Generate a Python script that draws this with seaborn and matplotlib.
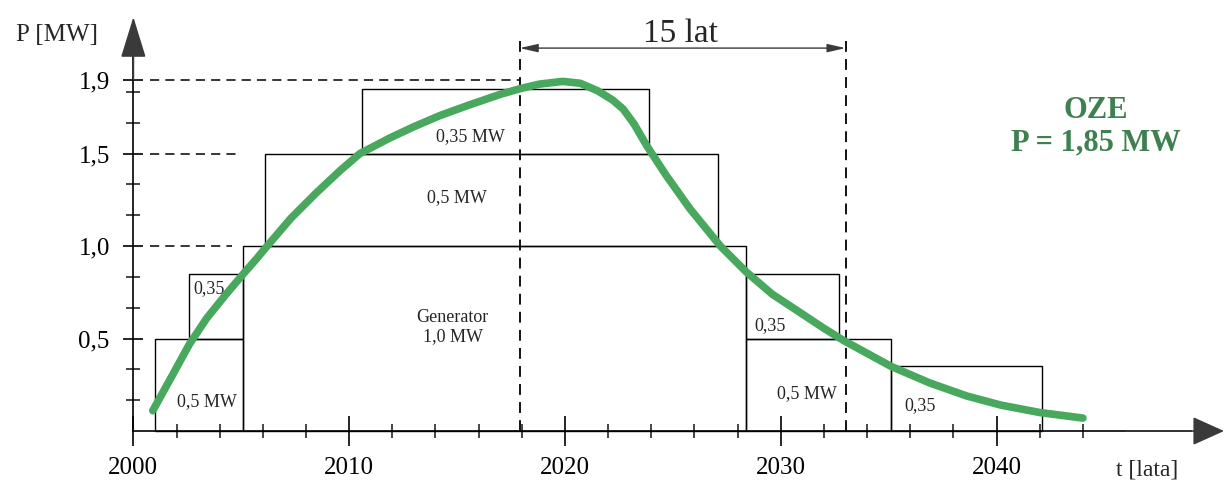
import matplotlib
matplotlib.use("Agg")
import matplotlib.pyplot as plt
import seaborn as sns
import pandas as pd

# green OZE curve (year, power in MW)
curve_year = [2000.9, 2001.8, 2002.6, 2003.4, 2004.3, 2005.1, 2005.7, 2006.2, 2007.3, 2008.5,
              2009.6, 2010.5, 2011.9, 2013.0, 2014.2, 2015.5, 2017.0, 2017.9, 2018.8, 2019.9,
              2020.7, 2021.5, 2022.2, 2022.7, 2023.2, 2023.8, 2024.7, 2025.8, 2027.2, 2028.4,
              2029.6, 2030.9, 2032.0, 2032.9, 2034.0, 2035.1, 2036.9, 2038.6, 2040.2, 2042.0,
              2044.0]
curve_power = [0.11, 0.30, 0.47, 0.61, 0.74, 0.85, 0.93, 1.00, 1.15, 1.29,
               1.41, 1.50, 1.585, 1.645, 1.705, 1.76, 1.82, 1.85, 1.875, 1.89,
               1.88, 1.84, 1.79, 1.74, 1.66, 1.54, 1.38, 1.20, 1.00, 0.86,
               0.74, 0.64, 0.555, 0.49, 0.42, 0.35, 0.26, 0.19, 0.14, 0.10,
               0.07]

# generator blocks
box_start = [2001.0, 2002.6, 2005.1, 2006.1, 2010.6, 2028.4, 2028.4, 2035.1]
box_end = [2005.1, 2005.1, 2028.4, 2027.1, 2023.9, 2032.7, 2035.1, 2042.1]
box_bottom = [0.0, 0.5, 0.0, 1.0, 1.5, 0.5, 0.0, 0.0]
box_height = [0.5, 0.35, 1.0, 0.5, 0.35, 0.35, 0.5, 0.35]
box_label = ["0,5 MW", "0,35", "Generator\n1,0 MW", "0,5 MW", "0,35 MW", "0,35", "0,5 MW", "0,35"]
label_x = [2003.4, 2003.5, 2014.8, 2015.0, 2015.6, 2029.5, 2031.2, 2036.45]
label_y = [0.157, 0.77, 0.562, 1.26, 1.59, 0.57, 0.205, 0.135]

x_major = [2000, 2010, 2020, 2030, 2040]
x_minor = [y for y in range(2002, 2045, 2) if y % 10 != 0]
y_major = [0.5, 1.0, 1.5, 1.9]
y_labels = ["0,5", "1,0", "1,5", "1,9"]
y_minor = [k / 6 for k in range(1, 12) if k not in (3, 6, 9)]

span_start, span_end = 2017.9, 2033.0

sns.set_theme(style="white")
plt.rcParams["font.family"] = ["Liberation Serif", "DejaVu Serif"]

GREEN = "#48a85e"
TEXT_GREEN = "#3f8050"
DARK = "#3a3a3a"

fig = plt.figure(figsize=(12.26, 4.88), dpi=100)
ax = fig.add_axes([0, 0, 1, 1])
ax.set_xlim(1993.82, 2050.63)
ax.set_ylim(-0.308, 2.33)

# boxes
widths = [e - s for s, e in zip(box_start, box_end)]
ax.bar(box_start, box_height, width=widths, bottom=box_bottom, align="edge",
       fill=False, edgecolor="black", linewidth=1.0, zorder=2)
for lx, ly, lab in zip(label_x, label_y, box_label):
    ax.text(lx, ly, lab, ha="center", va="center", fontsize=13, linespacing=1.1, zorder=3)

# dashed helper lines
ax.plot([2000.77, span_start], [1.9, 1.9], color="black", lw=1.1, dashes=(6, 4))
ax.plot([2000.77, 2004.94], [1.5, 1.5], color="black", lw=1.1, dashes=(6, 4))
ax.plot([2000.77, 2004.57], [1.0, 1.0], color="black", lw=1.1, dashes=(6, 4))
for xv in (span_start, span_end):
    ax.plot([xv, xv], [0, 2.11], color="black", lw=1.3, dashes=(6, 4))

# 15 years span
ax.annotate("", xy=(span_start, 2.07), xytext=(span_end, 2.07),
            arrowprops=dict(arrowstyle="<|-|>,head_length=1.1,head_width=0.25",
                            mutation_scale=10, color=DARK, lw=1.0,
                            shrinkA=0, shrinkB=0))
ax.text(2025.37, 2.15, "15 lat", ha="center", va="center", fontsize=24)

# OZE curve
df = pd.DataFrame({"year": curve_year, "power": curve_power})
sns.lineplot(data=df, x="year", y="power", ax=ax, color=GREEN, linewidth=5.5,
             solid_capstyle="round", solid_joinstyle="round", sort=False, zorder=4)
ax.text(2044.6, 1.645, "OZE\nP = 1,85 MW", ha="center", va="center", fontsize=22,
        fontweight="bold", color=TEXT_GREEN, linespacing=1.15)

# axes
for side in ("top", "right"):
    ax.spines[side].set_visible(False)
ax.spines["left"].set_position(("data", 2000))
ax.spines["bottom"].set_position(("data", 0))
ax.spines["left"].set_bounds(0, 2.1)
ax.spines["bottom"].set_bounds(2000, 2049)
for side in ("left", "bottom"):
    ax.spines[side].set_color("black")
    ax.spines[side].set_linewidth(1.2)

ax.annotate("", xy=(2000, 2.238), xytext=(2000, 1.9),
            arrowprops=dict(arrowstyle="-|>,head_length=2.6,head_width=0.8",
                            mutation_scale=10, color=DARK, lw=1.2, shrinkA=0, shrinkB=0))
ax.annotate("", xy=(2050.54, 0), xytext=(2046, 0),
            arrowprops=dict(arrowstyle="-|>,head_length=2.0,head_width=0.9",
                            mutation_scale=10, color=DARK, lw=1.2, shrinkA=0, shrinkB=0))

ax.set_xticks(x_major)
ax.set_xticklabels([str(v) for v in x_major])
ax.set_xticks(x_minor, minor=True)
ax.set_yticks(y_major)
ax.set_yticklabels(y_labels)
ax.set_yticks(y_minor, minor=True)
ax.tick_params(axis="x", which="major", direction="inout", length=21, width=1.2,
               pad=8, labelsize=18, colors="black")
ax.tick_params(axis="x", which="minor", direction="inout", length=9.5, width=1.2)
ax.tick_params(axis="y", which="major", direction="inout", length=14, width=1.2,
               pad=10, labelsize=18, colors="black")
ax.tick_params(axis="y", which="minor", direction="inout", length=10, width=1.2)
ax.yaxis.get_major_ticks()[3].tick1line.set_visible(False)
ax.tick_params(which="both", bottom=True, left=True)
ax.set_xlabel("")
ax.set_ylabel("")

ax.text(1996.46, 2.14, "P [MW]", ha="center", va="center", fontsize=18)
ax.text(2046.97, -0.21, "t [lata]", ha="center", va="center", fontsize=17)

fig.savefig("out.png", dpi=100)
